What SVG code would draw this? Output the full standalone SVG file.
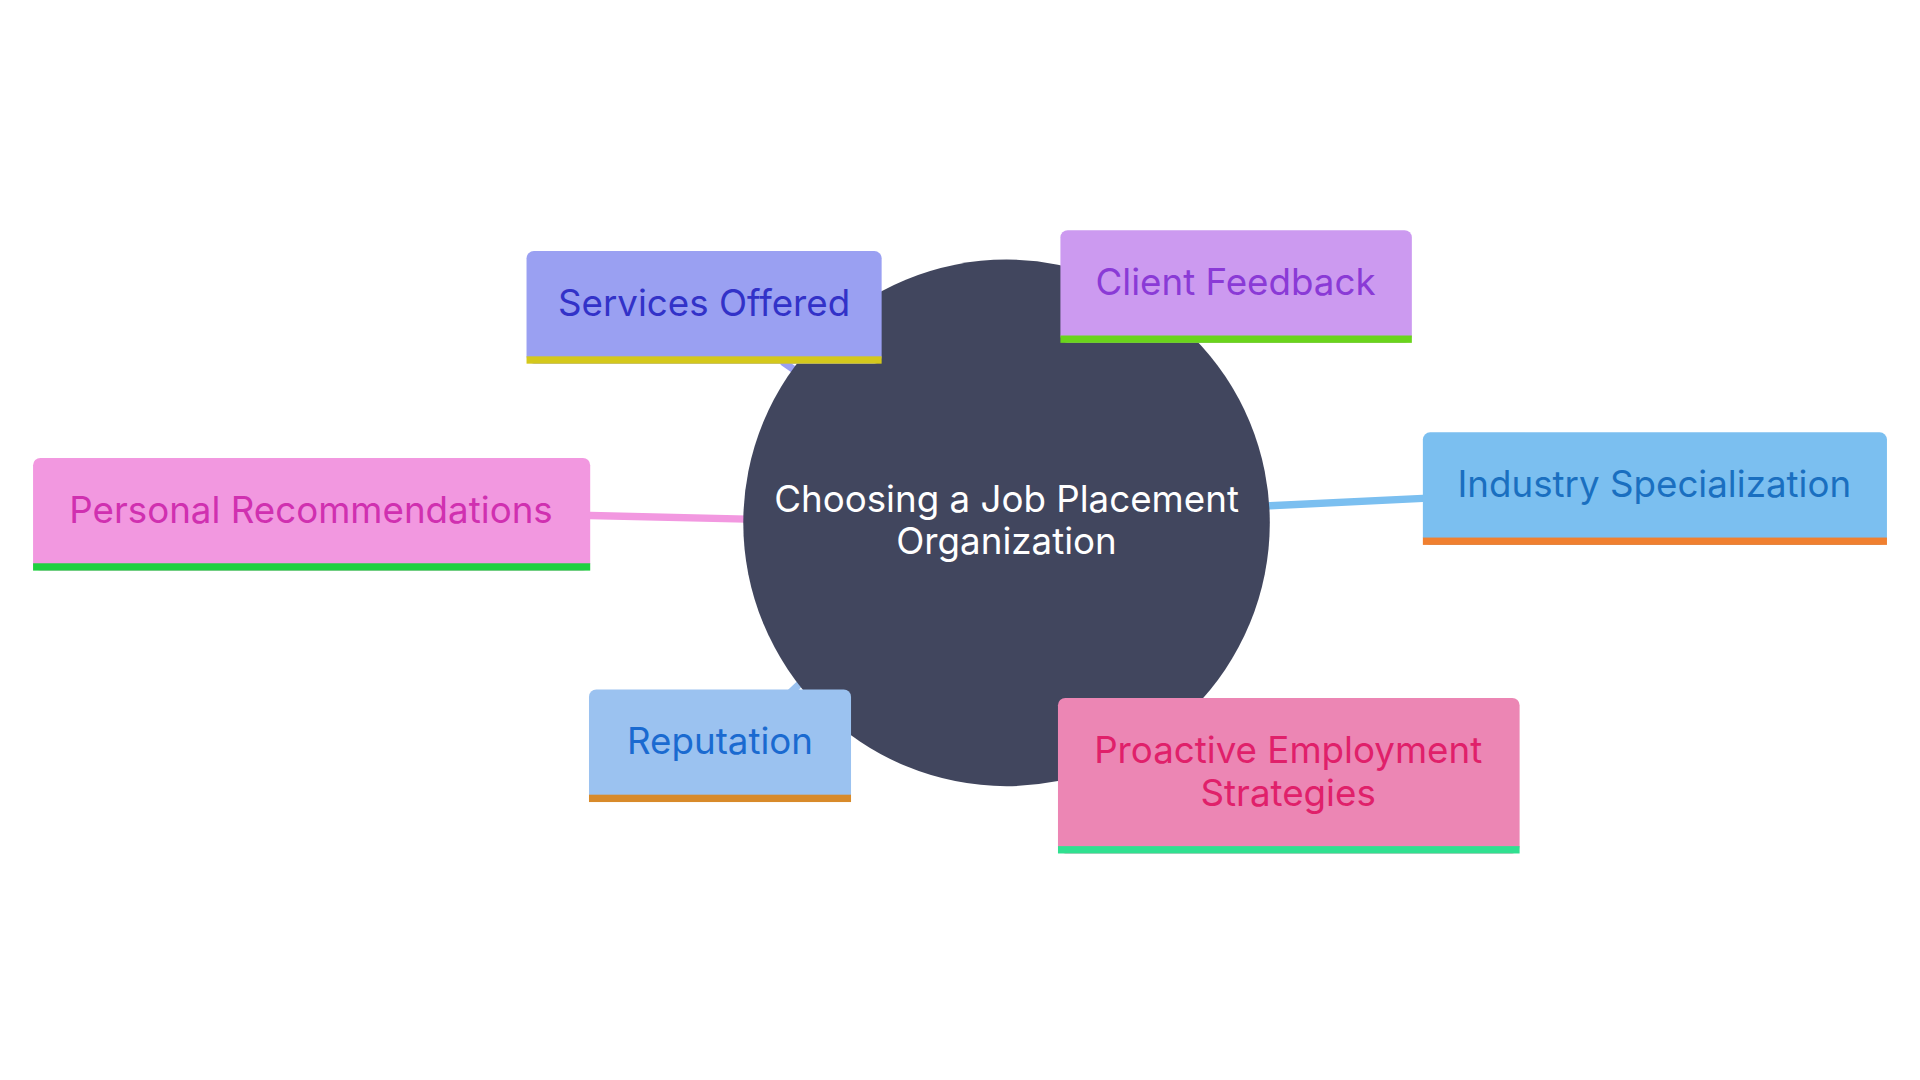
<svg xmlns="http://www.w3.org/2000/svg" width="1920" height="1080" viewBox="0 0 1920 1080">
<style>
text{font-family:Inter,"Open Sans",sans-serif;font-size:30px;text-anchor:middle;dominant-baseline:central}
.c{fill:none;stroke-width:6;stroke-linecap:round}
</style>
<rect width="1920" height="1080" fill="#fff"/>
<g transform="scale(1.2245)">
<g id="connectors">
<line class="c" x1="640" y1="296" x2="660" y2="310" stroke="#9aa0f2"/>
<line class="c" x1="940" y1="278" x2="930" y2="290" stroke="#cc9af0"/>
<line class="c" x1="1037" y1="413" x2="1162" y2="407" stroke="#7bbff0"/>
<line class="c" x1="482" y1="421" x2="610" y2="424" stroke="#f298e0"/>
<line class="c" x1="645" y1="566" x2="660" y2="552" stroke="#9bc2f0"/>
<line class="c" x1="960" y1="572" x2="950" y2="560" stroke="#ec86b4"/>
</g>
<g id="center"><circle cx="822" cy="427" r="215" fill="#41465e"/>
<text x="822" y="407" fill="#fff">Choosing a Job Placement</text><text x="822" y="441" fill="#fff">Organization</text></g>
<g id="services"><rect x="430" y="205" width="290" height="92" rx="6" fill="#9aa0f2"/><rect x="430" y="291" width="290" height="6" fill="#d4c81c"/><text x="575" y="247" fill="#3232c8">Services Offered</text></g>
<g id="client"><rect x="866" y="188" width="287" height="92" rx="6" fill="#cc9af0"/><rect x="866" y="274" width="287" height="6" fill="#6ad41c"/><text x="1009" y="230" fill="#8a3ad6">Client Feedback</text></g>
<g id="industry"><rect x="1162" y="353" width="379" height="92" rx="6" fill="#7bbff0"/><rect x="1162" y="439" width="379" height="6" fill="#f08030"/><text x="1351" y="395" fill="#1a6fc0">Industry Specialization</text></g>
<g id="personal"><rect x="27" y="374" width="455" height="92" rx="6" fill="#f298e0"/><rect x="27" y="460" width="455" height="6" fill="#20d040"/><text x="254" y="416" fill="#d030b0">Personal Recommendations</text></g>
<g id="reputation"><rect x="481" y="563" width="214" height="92" rx="6" fill="#9bc2f0"/><rect x="481" y="649" width="214" height="6" fill="#d88a2a"/><text x="588" y="605" fill="#1a6ad0">Reputation</text></g>
<g id="proactive"><rect x="864" y="570" width="377" height="127" rx="6" fill="#ec86b4"/><rect x="864" y="691" width="377" height="6" fill="#30e090"/><text x="1052" y="612" fill="#e0206a">Proactive Employment</text><text x="1052" y="647" fill="#e0206a">Strategies</text></g>
</g>
</svg>
